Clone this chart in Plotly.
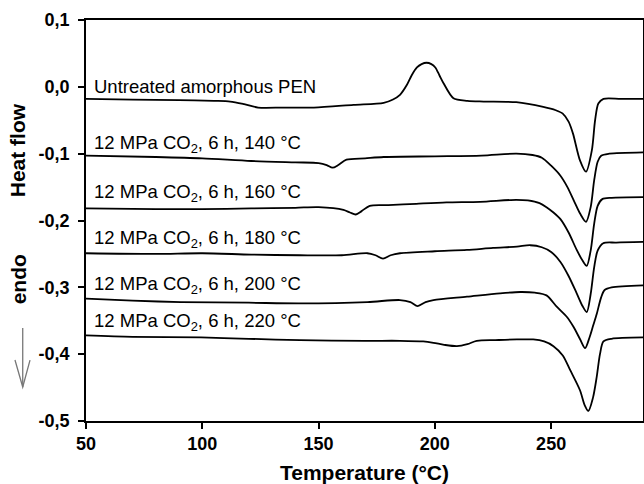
import plotly.graph_objects as go

# ---- data ----
x_untreated = [50, 70, 90, 105, 112, 118, 124, 135, 148, 165, 178, 182, 185, 188, 190, 192.3, 194.3, 196.4, 198.5, 200.2, 202, 203.8, 208, 214, 221, 235, 246.6, 252, 255, 257.5, 259.4, 262.4, 265, 267.5, 268.9, 270.3, 272.5, 280, 290]
y_untreated = [-0.018, -0.019, -0.020, -0.021, -0.022, -0.026, -0.031, -0.031, -0.031, -0.027, -0.024, -0.019, -0.012, 0.003, 0.017, 0.029, 0.034, 0.036, 0.034, 0.029, 0.017, 0.005, -0.017, -0.021, -0.022, -0.023, -0.030, -0.035, -0.040, -0.052, -0.070, -0.110, -0.127, -0.095, -0.050, -0.025, -0.018, -0.018, -0.018]

x_140 = [50, 80, 100, 121, 140, 150, 153.5, 156, 158.5, 162, 170, 178, 200, 220, 235, 242, 246, 250, 254, 257, 260, 262.5, 265, 267, 268.5, 270, 271.5, 275, 290]
y_140 = [-0.103, -0.105, -0.107, -0.111, -0.113, -0.114, -0.117, -0.121, -0.117, -0.109, -0.107, -0.105, -0.104, -0.103, -0.100, -0.102, -0.106, -0.118, -0.133, -0.150, -0.172, -0.190, -0.202, -0.180, -0.140, -0.112, -0.103, -0.100, -0.098]

x_160 = [50, 80, 100, 121, 140, 150, 160.7, 163.5, 166, 168.5, 172, 180, 192, 205, 219.5, 235, 240, 245, 248, 251, 254, 257.5, 261, 263.5, 265.3, 267, 268.5, 270, 272, 276, 290]
y_160 = [-0.182, -0.183, -0.183, -0.182, -0.181, -0.180, -0.184, -0.188, -0.191, -0.186, -0.178, -0.177, -0.175, -0.173, -0.172, -0.169, -0.170, -0.174, -0.180, -0.188, -0.198, -0.218, -0.244, -0.260, -0.268, -0.245, -0.205, -0.178, -0.168, -0.166, -0.165]

x_180 = [50, 80, 100, 121, 142, 160, 171, 174.5, 177.7, 181, 185, 200, 213.8, 225, 235.3, 241, 246, 250, 254, 257.5, 261, 263.5, 265.3, 267, 268.5, 270, 272.4, 278, 290]
y_180 = [-0.249, -0.250, -0.249, -0.251, -0.252, -0.252, -0.249, -0.252, -0.257, -0.252, -0.249, -0.246, -0.244, -0.241, -0.239, -0.237, -0.240, -0.247, -0.262, -0.283, -0.309, -0.328, -0.337, -0.310, -0.270, -0.245, -0.234, -0.233, -0.232]

x_200 = [50, 70, 90.8, 120, 142, 171, 185, 189.5, 192.6, 196, 199.4, 213.8, 228, 236.7, 243, 248, 252.4, 256.7, 259.6, 262.5, 264.6, 266.5, 268, 269.6, 271.5, 273, 276, 290]
y_200 = [-0.317, -0.320, -0.322, -0.323, -0.324, -0.322, -0.319, -0.322, -0.328, -0.322, -0.319, -0.314, -0.309, -0.307, -0.308, -0.312, -0.329, -0.344, -0.359, -0.378, -0.391, -0.375, -0.358, -0.340, -0.315, -0.304, -0.300, -0.297]

x_220 = [50, 70, 99.4, 120, 142, 170, 185, 195, 199.4, 204, 209.5, 214, 218, 226, 235.3, 242.3, 247, 251, 255, 258.2, 262.4, 264.5, 266, 268, 269.6, 271, 272.5, 276, 290]
y_220 = [-0.372, -0.374, -0.375, -0.377, -0.379, -0.380, -0.380, -0.381, -0.383, -0.386, -0.388, -0.385, -0.380, -0.379, -0.378, -0.378, -0.381, -0.388, -0.402, -0.424, -0.454, -0.477, -0.485, -0.465, -0.434, -0.400, -0.381, -0.377, -0.375]

labels = ["Untreated amorphous PEN",
          "12 MPa CO<sub>2</sub>, 6 h, 140 °C",
          "12 MPa CO<sub>2</sub>, 6 h, 160 °C",
          "12 MPa CO<sub>2</sub>, 6 h, 180 °C",
          "12 MPa CO<sub>2</sub>, 6 h, 200 °C",
          "12 MPa CO<sub>2</sub>, 6 h, 220 °C"]
label_x = [52.6, 52.6, 52.6, 52.6, 52.6, 52.6]
label_y = [0.0, -0.085, -0.1595, -0.227, -0.297, -0.352]

x_ticks = [50, 100, 150, 200, 250]
y_ticks = [0.1, 0.0, -0.1, -0.2, -0.3, -0.4, -0.5]
y_tick_text = ["0,1", "0,0", "-0,1", "-0,2", "-0,3", "-0,4", "-0,5"]

FONT = "Liberation Sans, Arial, sans-serif"

fig = go.Figure()
series = [(x_untreated, y_untreated), (x_140, y_140), (x_160, y_160),
          (x_180, y_180), (x_200, y_200), (x_220, y_220)]
for xs, ys in series:
    fig.add_trace(go.Scatter(x=xs, y=ys, mode="lines",
                             line=dict(color="black", width=1.8, shape="spline", smoothing=0.8),
                             showlegend=False, hoverinfo="skip"))

for t, lx, ly in zip(labels, label_x, label_y):
    fig.add_annotation(x=lx, y=ly, xref="x", yref="y", text=t, showarrow=False,
                       xanchor="left", yanchor="middle",
                       font=dict(family=FONT, size=18.5, color="black"))

fig.add_annotation(x=-0.1215, y=0.676, xref="paper", yref="paper", text="Heat flow",
                   textangle=-90, showarrow=False, xanchor="center", yanchor="middle",
                   font=dict(family=FONT, size=21, color="black", weight="bold"))
fig.add_annotation(x=-0.1215, y=0.354, xref="paper", yref="paper", text="endo",
                   textangle=-90, showarrow=False, xanchor="center", yanchor="middle",
                   font=dict(family=FONT, size=21, color="black", weight="bold"))

# endo arrow
fig.add_shape(type="line", xref="paper", yref="paper", x0=-0.1136, x1=-0.1136, y0=0.232, y1=0.0848,
              line=dict(color="#777777", width=1.3))
fig.add_shape(type="path", xref="paper", yref="paper",
              path="M -0.1275 0.152 L -0.1136 0.0848 L -0.1005 0.152",
              line=dict(color="#777777", width=1.3))

fig.update_xaxes(range=[50, 289.5], tickvals=x_ticks, ticks="outside", ticklen=6, tickwidth=1.5,
                 tickcolor="black", showline=True, linecolor="black", linewidth=1.5, mirror=True,
                 showgrid=False, zeroline=False, automargin=False,
                 tickfont=dict(family=FONT, size=18, color="black", weight="bold"),
                 title=dict(text="Temperature (°C)",
                            font=dict(family=FONT, size=21, color="black", weight="bold"),
                            standoff=12))
fig.update_yaxes(range=[-0.5, 0.1], tickvals=y_ticks, ticktext=y_tick_text,
                 ticks="outside", ticklen=6, tickwidth=1.5, tickcolor="black",
                 showline=True, linecolor="black", linewidth=1.5, mirror=True,
                 showgrid=False, zeroline=False, ticklabelstandoff=5, automargin=False,
                 tickfont=dict(family=FONT, size=18, color="black", weight="bold"))

fig.update_layout(width=644, height=484, margin=dict(l=86, r=1, t=20, b=63),
                  plot_bgcolor="white", paper_bgcolor="white")

fig.write_html("out.html", config={"displayModeBar": False})

# remove the browser's default body margin so the figure sits at the page origin
with open("out.html", "r", encoding="utf-8") as f:
    html = f.read()
html = html.replace("<head>", "<head><style>html,body{margin:0;padding:0;}</style>", 1)
with open("out.html", "w", encoding="utf-8") as f:
    f.write(html)
